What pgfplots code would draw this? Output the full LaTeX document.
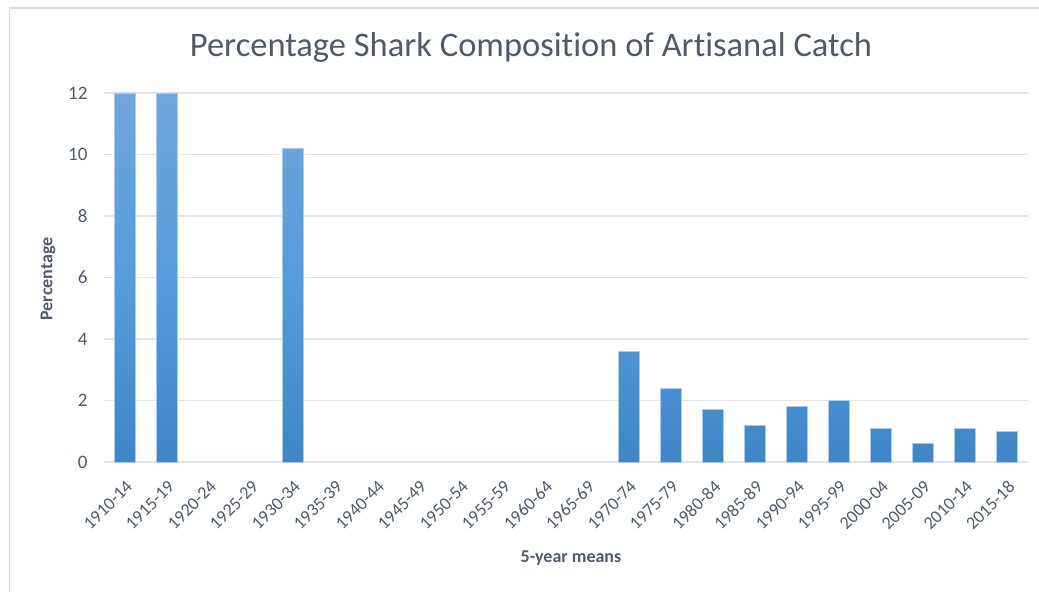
\documentclass[border=0pt]{standalone}
\usepackage{pgfplots}
\pgfplotsset{compat=1.18}
\usepackage{fontspec}
\setmainfont{Carlito}[Ligatures=NoCommon]

\definecolor{txt}{HTML}{4F5B6B}
\definecolor{gridc}{HTML}{E1E4EA}
\definecolor{barTop}{HTML}{71A7DD}
\definecolor{barMid}{HTML}{559CDC}
\definecolor{barBot}{HTML}{3F86C8}
\definecolor{barEdge}{HTML}{A9CBEC}
\definecolor{frame}{HTML}{D9DDE3}

\begin{document}
\begin{tikzpicture}[x=1pt,y=1pt]
\useasboundingbox (0,0) rectangle (1039,592);
\draw[frame, line width=1.2pt] (9.5,0) -- (9.5,584) -- (1039,584);

\begin{axis}[
  at={(104pt,130pt)}, anchor=south west,
  scale only axis,
  width=924pt, height=369pt,
  xmin=-0.5, xmax=21.5,
  ymin=0, ymax=12,
  ytick={0,2,...,12},
  xtick={0,...,21},
  xticklabels={1910-14,1915-19,1920-24,1925-29,1930-34,1935-39,1940-44,1945-49,1950-54,1955-59,1960-64,1965-69,1970-74,1975-79,1980-84,1985-89,1990-94,1995-99,2000-04,2005-09,2010-14,2015-18},
  xticklabel style={xshift=0pt, yshift=-16pt, rotate=45, anchor=north east, font=\fontsize{18}{18}\selectfont, text=txt, inner sep=1pt},
  yticklabel style={font=\fontsize{19}{19}\selectfont, text=txt, xshift=-13pt},
  /pgf/number format/assume math mode=true,
  major tick length=0pt,
  axis line style={draw=none},
  ymajorgrids, grid style={gridc, line width=1.2pt},
  clip=false,
]
\addplot[ybar, bar width=0.5, draw=barEdge, line width=0.8pt,
  top color=barTop, bottom color=barBot, middle color=barMid]
coordinates {
  (0,12) (1,12) (4,10.2)
  (12,3.6) (13,2.4) (14,1.7) (15,1.2) (16,1.8) (17,2.0)
  (18,1.1) (19,0.6) (20,1.1) (21,1.0)
};
\end{axis}

\node[text=txt, font=\fontsize{34.5}{34.5}\selectfont] at (531,545) {Percentage Shark Composition of Artisanal Catch};
\node[text=txt, font=\bfseries\fontsize{18}{18}\selectfont, rotate=90] at (48,313) {Percentage};
\node[text=txt, font=\bfseries\fontsize{18}{18}\selectfont] at (571,34) {5-year means};
\end{tikzpicture}
\end{document}
